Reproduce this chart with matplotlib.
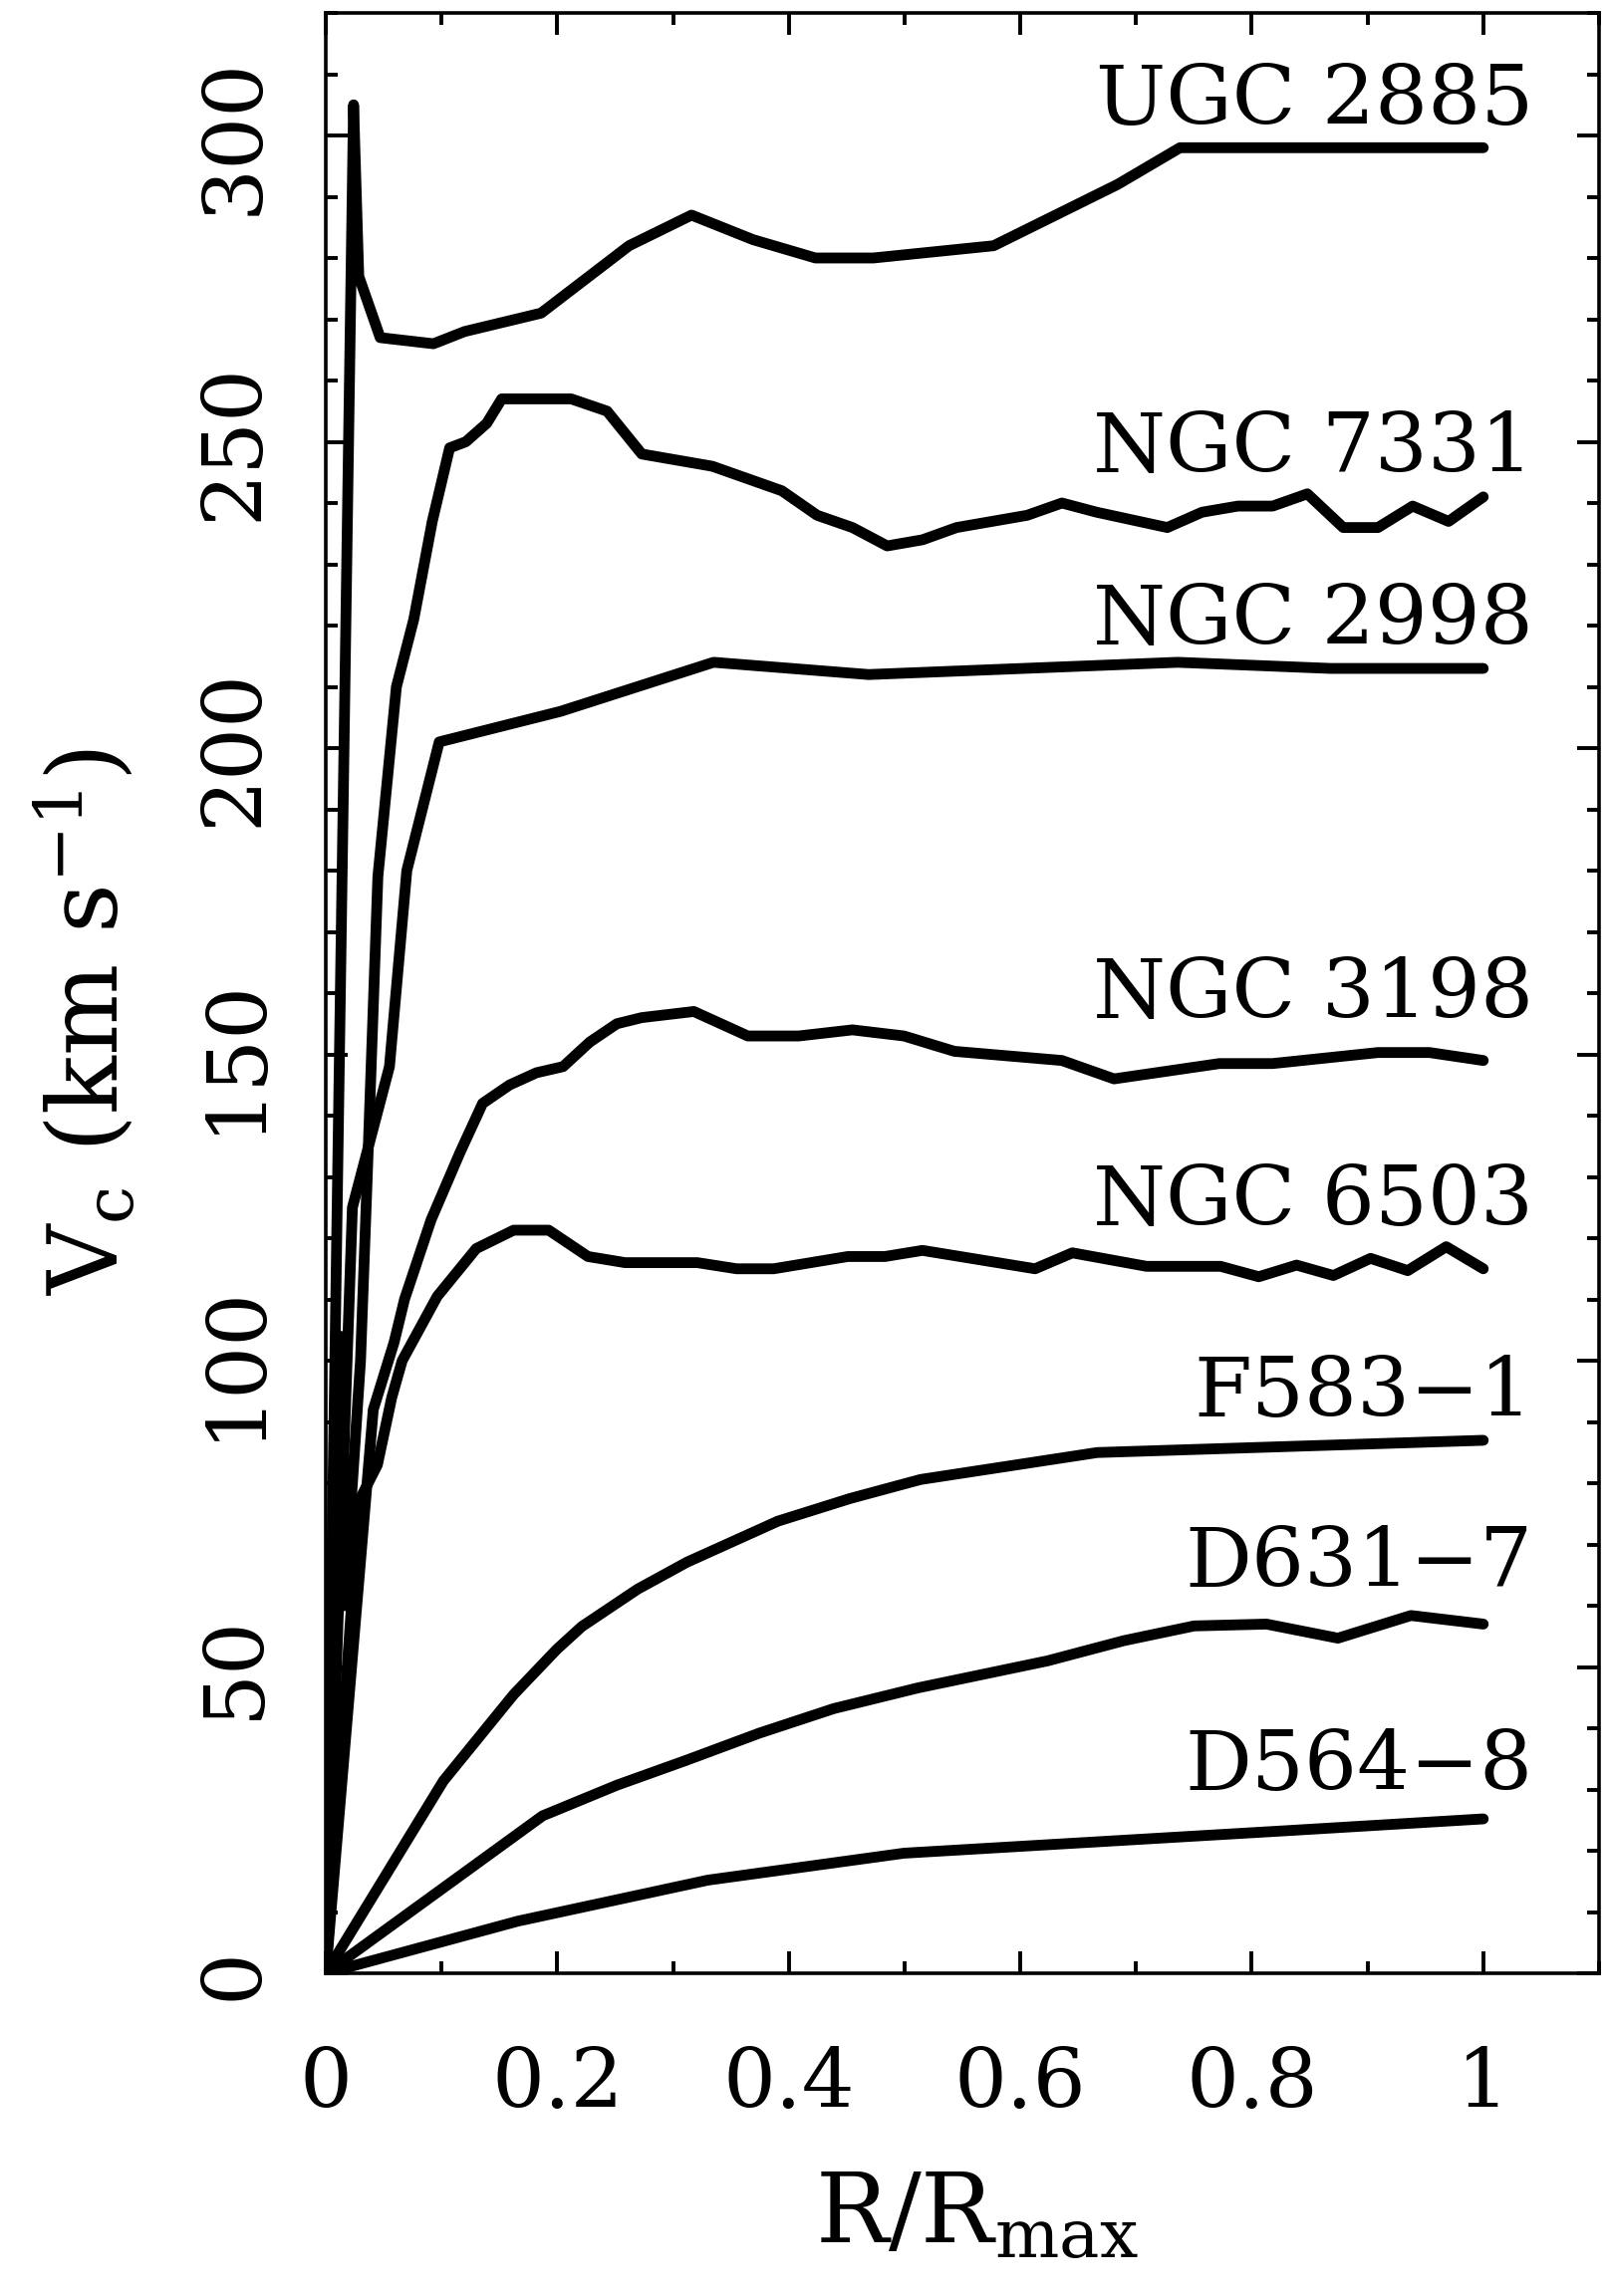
"""
Rotation curves V_c against R/R_max for eight galaxies, normalised radius.
"""

import numpy as np
import matplotlib
matplotlib.use("Agg")
import matplotlib.pyplot as plt
from matplotlib.ticker import MultipleLocator, FixedLocator, FixedFormatter

plt.rcParams["font.family"] = ["DejaVu Serif"]
plt.rcParams["mathtext.fontset"] = "dejavuserif"

# ── data ──────────────────────────────────────────────────────────────────
UGC2885_R = [0, 0.024, 0.0285, 0.047, 0.093, 0.12, 0.186, 0.262, 0.316, 0.369,
             0.423, 0.473, 0.577, 0.684, 0.738, 1.0]
UGC2885_V = [0, 305, 277, 267, 266, 268, 271, 282, 287, 283,
             280, 280, 282, 292, 298, 298]

NGC7331_R = [0, 0.0125, 0.016, 0.030, 0.036, 0.045, 0.061, 0.076, 0.092, 0.107,
             0.121, 0.139, 0.152, 0.212, 0.243, 0.273, 0.334, 0.394, 0.4245, 0.455,
             0.485, 0.5155, 0.545, 0.606, 0.636, 0.666, 0.727, 0.757, 0.788, 0.818,
             0.848, 0.879, 0.909, 0.939, 0.97, 1.0]
NGC7331_V = [0, 104, 60, 100, 131, 179, 210, 221, 237, 249,
             250, 253, 257, 257, 255, 248, 246, 242, 238, 236,
             233, 234, 236, 238, 240, 238.5, 236, 238.5, 239.5, 239.5,
             241.5, 236, 236, 239.5, 237, 241]

NGC2998_R = [0, 0.023, 0.055, 0.070, 0.098, 0.203, 0.335, 0.469, 0.736, 0.868, 1.0]
NGC2998_V = [0, 125, 148, 180, 201, 206, 214, 212, 214, 213, 213]

NGC3198_R = [0, 0.041, 0.059, 0.068, 0.091, 0.116, 0.1355, 0.1587, 0.182, 0.205,
             0.228, 0.2515, 0.273, 0.318, 0.3646, 0.4085, 0.455, 0.4995, 0.543,
             0.636, 0.681, 0.772, 0.818, 0.909, 0.9535, 1.0]
NGC3198_V = [0, 92, 103, 110, 123, 134, 142, 145, 147, 148,
             152, 155, 156, 157, 153, 153, 154, 153, 150.5,
             149, 146, 148.5, 148.5, 150.3, 150.3, 149]

NGC6503_R = [0, 0.0285, 0.0446, 0.057, 0.066, 0.0963, 0.130, 0.1623, 0.1926, 0.2265,
             0.2586, 0.321, 0.355, 0.387, 0.451, 0.483, 0.5155, 0.6128, 0.645, 0.709,
             0.773, 0.806, 0.8387, 0.8705, 0.9026, 0.9347, 0.968, 1.0]
NGC6503_V = [0, 77, 83, 94, 100, 110.5, 118.3, 121.3, 121.3, 117,
             116, 116, 115, 115, 117, 117, 118, 115, 117.6, 115.4,
             115.4, 113.7, 115.6, 113.9, 116.7, 114.7, 118.6, 115]

F583_R = [0, 0.1016, 0.1623, 0.1997, 0.2212, 0.2694, 0.312, 0.3906, 0.453, 0.5138,
          0.6664, 1.0]
F583_V = [0, 31.4, 45.5, 52.9, 56.6, 62.7, 67.1, 73.8, 77.5, 80.6, 85, 87]

D631_R = [0, 0.1873, 0.2515, 0.312, 0.3746, 0.4388, 0.512, 0.6236, 0.6896, 0.7502,
          0.8127, 0.8744, 0.9375, 1.0]
D631_V = [0, 25.7, 30.7, 34.8, 39.2, 43.2, 46.6, 51, 54.3, 56.7, 57, 54.7, 58.4, 57]

D564_R = [0, 0.1658, 0.33, 0.4995, 0.8323, 1.0]
D564_V = [0, 8.5, 15.2, 19.6, 23.3, 25.2]

NAMES = ["UGC 2885", "NGC 7331", "NGC 2998", "NGC 3198",
         "NGC 6503", "F583\u22121", "D631\u22127", "D564\u22128"]
NAME_Y = [301.8, 245.1, 216.9, 156.0, 122.1, 90.9, 63.1, 29.9]

CURVES = [(UGC2885_R, UGC2885_V), (NGC7331_R, NGC7331_V), (NGC2998_R, NGC2998_V),
          (NGC3198_R, NGC3198_V), (NGC6503_R, NGC6503_V), (F583_R, F583_V),
          (D631_R, D631_V), (D564_R, D564_V)]

X_TICKS = [0, 0.2, 0.4, 0.6, 0.8, 1.0]
X_TICK_LABELS = ["0", "0.2", "0.4", "0.6", "0.8", "1"]
Y_TICKS = [0, 50, 100, 150, 200, 250, 300]


def main():
    W, H = 1613, 2305
    fig = plt.figure(figsize=(W / 100, H / 100), dpi=100)
    ax = fig.add_axes([327 / W, 1 - 1981 / H, (1605 - 327) / W, (1981 - 13) / H])

    for r, v in CURVES:
        ax.plot(r, v, color="black", lw=7.8,
                solid_joinstyle="round", solid_capstyle="round")

    for name, y in zip(NAMES, NAME_Y):
        ax.text(1.043, y, name, ha="right", va="baseline", fontsize=60)

    ax.set_xlim(0, 1.1)
    ax.set_ylim(0, 320)

    ax.xaxis.set_major_locator(FixedLocator(X_TICKS))
    ax.xaxis.set_major_formatter(FixedFormatter(X_TICK_LABELS))
    ax.xaxis.set_minor_locator(MultipleLocator(0.1))
    ax.yaxis.set_major_locator(FixedLocator(Y_TICKS))
    ax.yaxis.set_minor_locator(MultipleLocator(10))

    for s in ax.spines.values():
        s.set_linewidth(2.6)

    ax.tick_params(which="both", direction="in", top=True, right=True, width=2.8)
    ax.tick_params(which="major", length=16)
    ax.tick_params(which="minor", length=8.5)
    ax.tick_params(axis="x", labelsize=60, pad=52)
    ax.tick_params(axis="y", labelsize=60, pad=37)
    for lab in ax.get_yticklabels():
        lab.set_rotation(90)
        lab.set_va("center")

    fig.text(86 / W, 0.555, r"$\mathrm{V_c\ (km\ s^{-1})}$",
             rotation=90, ha="center", va="center", fontsize=70)
    fig.text(980 / W, 1 - 2252 / H, r"$\mathrm{R/R_{max}}$",
             ha="center", va="baseline", fontsize=70)

    fig.savefig("out.png", dpi=100)


if __name__ == "__main__":
    main()
